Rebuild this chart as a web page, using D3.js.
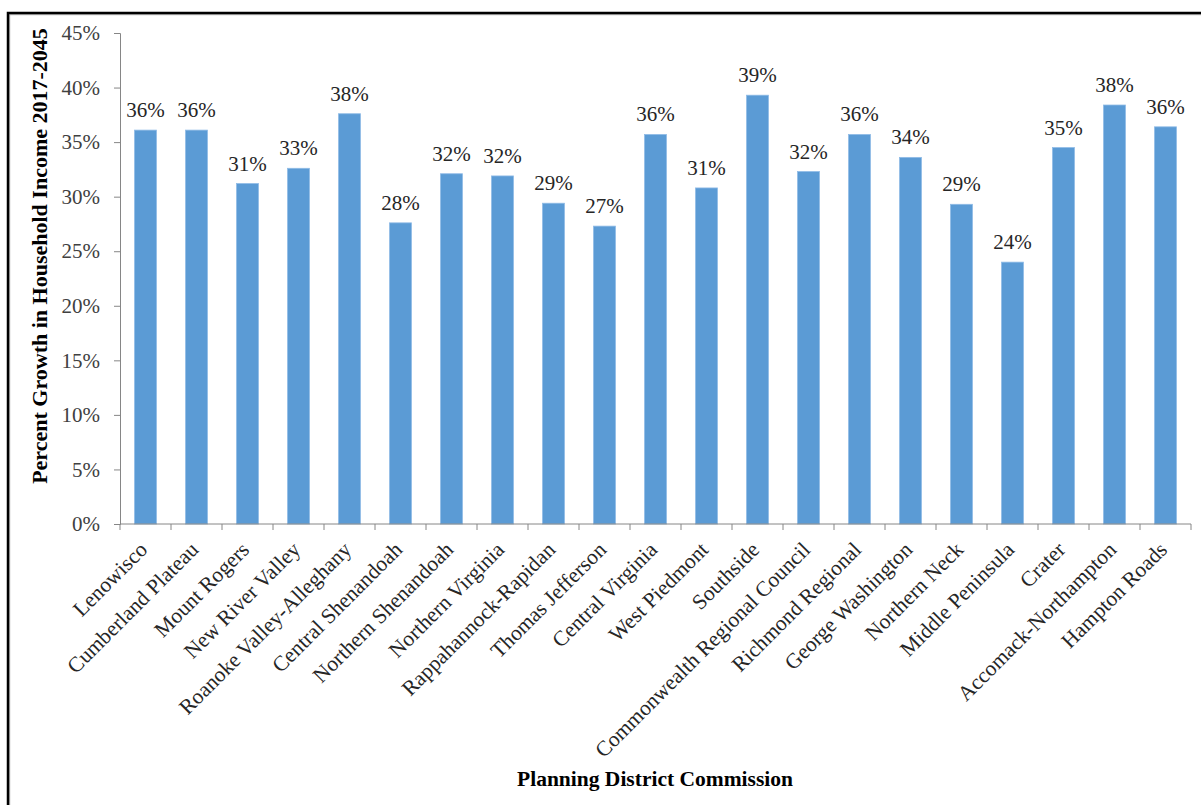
<!DOCTYPE html>
<html>
<head>
<meta charset="utf-8">
<script src="https://cdn.jsdelivr.net/npm/d3@7"></script>
<style>
  body { margin: 0; background: #fff; }
  text { font-family: "Liberation Serif", "Times New Roman", serif; }
</style>
</head>
<body>
<div id="chart"></div>
<script>
(function(){
	var districts = ['Lenowisco', 'Cumberland Plateau', 'Mount Rogers', 'New River Valley',
		'Roanoke Valley-Alleghany', 'Central Shenandoah', 'Northern Shenandoah', 'Northern Virginia',
		'Rappahannock-Rapidan', 'Thomas Jefferson', 'Central Virginia', 'West Piedmont', 'Southside',
		'Commonwealth Regional Council', 'Richmond Regional', 'George Washington', 'Northern Neck',
		'Middle Peninsula', 'Crater', 'Accomack-Northampton', 'Hampton Roads'];
	var growth = [0.361, 0.361, 0.312, 0.326, 0.376, 0.276, 0.321, 0.319, 0.294, 0.273, 0.357,
		0.308, 0.393, 0.323, 0.357, 0.336, 0.293, 0.240, 0.345, 0.384, 0.364];
	var yTicks = [0, 0.05, 0.10, 0.15, 0.20, 0.25, 0.30, 0.35, 0.40, 0.45];

	var width = 1201, height = 805;
	var left = 120, right = 1191, top = 33, bottom = 524;
	var pct = d3.format('.0%');

	var svg = d3.select('#chart').append('svg')
		.attr('width', width)
		.attr('height', height);

	// frame, only top and left edges fall inside the page
	svg.append('rect')
		.attr('x', 9.5).attr('y', 14.5)
		.attr('width', 1400).attr('height', 1000)
		.style('fill', 'none').style('stroke', '#bbb').style('stroke-width', 1.5);
	svg.append('rect')
		.attr('x', 8).attr('y', 13)
		.attr('width', 1400).attr('height', 1000)
		.style('fill', 'none').style('stroke', '#000').style('stroke-width', 2.5);

	var x = d3.scaleBand().domain(districts).range([left, right]).padding(0);
	var y = d3.scaleLinear().domain([0, 0.45]).range([bottom, top]);
	var barW = x.bandwidth() * 0.43;

	// y axis
	var yAxis = svg.append('g')
		.attr('transform', 'translate(' + left + ',0)')
		.call(d3.axisLeft(y).tickValues(yTicks).tickFormat(pct).tickSize(6).tickPadding(14));
	yAxis.select('.domain').style('stroke', '#868686');
	yAxis.selectAll('.tick line').style('stroke', '#868686');
	yAxis.selectAll('.tick text')
		.style('font-size', '21px')
		.style('fill', '#404040')
		.style('font-family', '"Liberation Serif", serif');

	// bars
	svg.append('g').selectAll('rect')
		.data(growth)
		.enter().append('rect')
			.attr('x', function(d,i) {return x(districts[i]) + (x.bandwidth() - barW) / 2;})
			.attr('y', function(d) {return y(d);})
			.attr('width', barW)
			.attr('height', function(d) {return y(0) - y(d);})
			.style('fill', '#5b9bd5')
			.style('stroke', '#8fbbe6')
			.style('stroke-width', 0.8);

	// value labels
	svg.append('g').selectAll('text')
		.data(growth)
		.enter().append('text')
			.attr('x', function(d,i) {return x(districts[i]) + x.bandwidth() / 2;})
			.attr('y', function(d) {return y(d) - 13;})
			.attr('text-anchor', 'middle')
			.style('font-size', '21px')
			.style('fill', '#262626')
			.text(function(d) {return pct(d);});

	// x axis line and boundary ticks
	svg.append('line')
		.attr('x1', left).attr('x2', right)
		.attr('y1', bottom).attr('y2', bottom)
		.style('stroke', '#868686');
	var bounds = districts.map(function(d) {return x(d);}).concat([right]);
	svg.append('g').selectAll('line')
		.data(bounds)
		.enter().append('line')
			.attr('x1', function(d) {return d;}).attr('x2', function(d) {return d;})
			.attr('y1', bottom).attr('y2', bottom + 6)
			.style('stroke', '#868686');

	// category labels
	svg.append('g').selectAll('text')
		.data(districts)
		.enter().append('text')
			.attr('transform', function(d) {
				return 'translate(' + (x(d) + x.bandwidth() / 2 + 3) + ',' + 551 + ') rotate(-45)';
			})
			.attr('text-anchor', 'end')
			.style('font-size', '21.5px')
			.style('fill', '#262626')
			.text(function(d) {return d;});

	// axis titles
	svg.append('text')
		.attr('transform', 'translate(47,256) rotate(-90)')
		.attr('text-anchor', 'middle')
		.style('font-size', '22px')
		.style('font-weight', 'bold')
		.style('fill', '#000')
		.text('Percent Growth in Household Income 2017-2045');

	svg.append('text')
		.attr('x', 655).attr('y', 786)
		.attr('text-anchor', 'middle')
		.style('font-size', '21.5px')
		.style('font-weight', 'bold')
		.style('fill', '#000')
		.text('Planning District Commission');
})();
</script>
</body>
</html>
